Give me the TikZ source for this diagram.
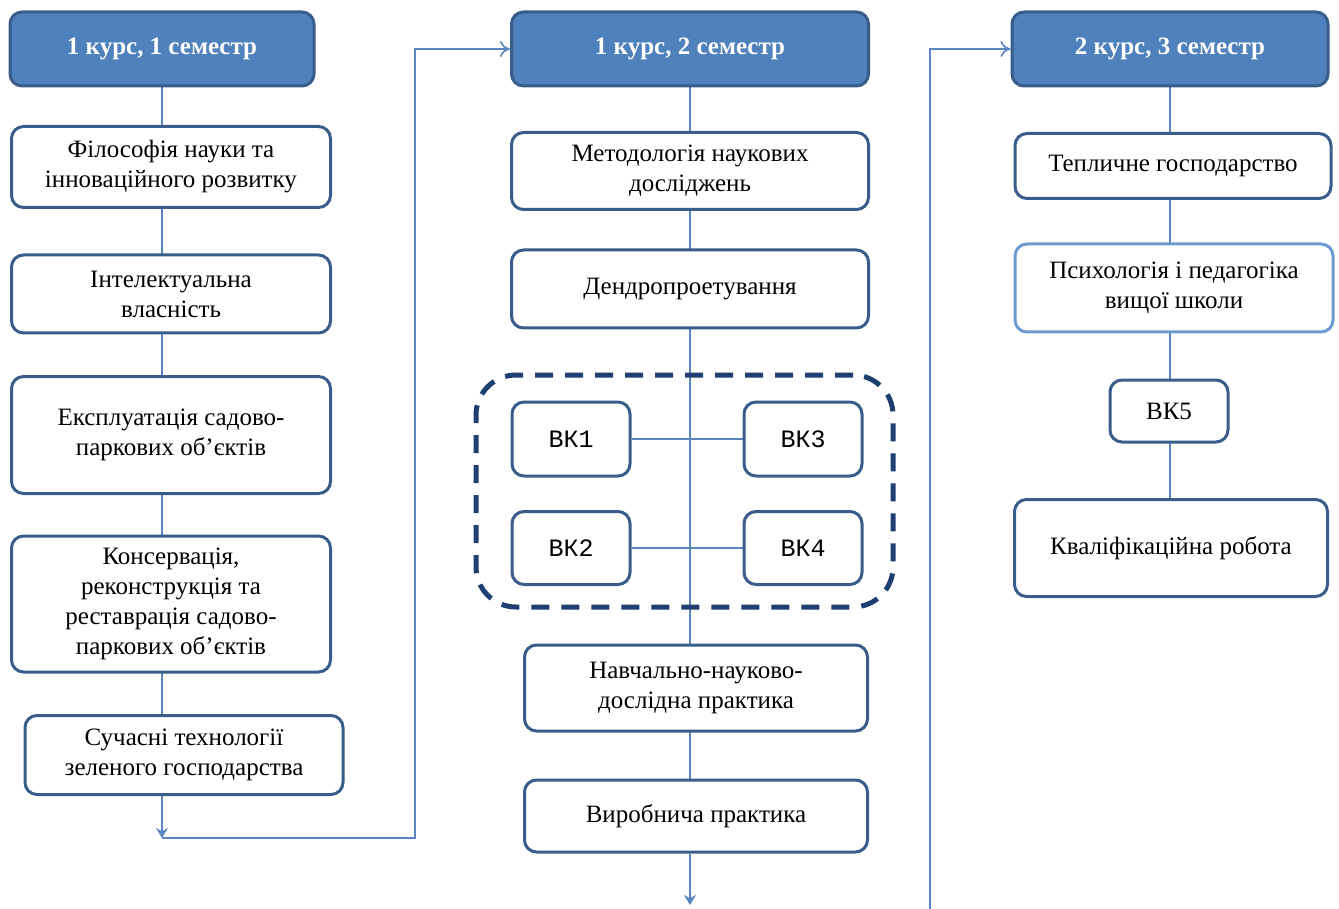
\documentclass[tikz,border=0pt]{standalone}
\usepackage{fontspec}
\setmainfont{Liberation Serif}
\newfontfamily\vkfont{Liberation Mono}
\usetikzlibrary{arrows.meta,backgrounds}
\definecolor{HeadBlue}{HTML}{4F81BD}
\definecolor{EdgeBlue}{HTML}{385D8A}
\definecolor{LineBlue}{HTML}{5A86BE}
\definecolor{DashBlue}{HTML}{1F3F73}
\definecolor{SoftBlue}{HTML}{6C9BD2}
\tikzstyle{Node}=[draw=EdgeBlue, line width=1.5pt, rounded corners=6pt, fill=white, align=center, inner sep=0pt, font=\fontsize{12.5}{15}\selectfont]
\tikzstyle{Head}=[Node, fill=HeadBlue, text=white, font=\bfseries\fontsize{12.5}{15}\selectfont]
\tikzstyle{Elective}=[Node, minimum width=59pt, font=\vkfont\fontsize{12.5}{15}\selectfont]
\tikzstyle{Group}=[draw=DashBlue, line width=2.5pt, dash pattern=on 9pt off 6pt, rounded corners=20pt]
\tikzstyle{Line}=[draw=LineBlue, line width=0.8pt]
\tikzstyle{Arrow}=[Line, -{To[length=5pt,width=8pt]}]
\tikzstyle{Down}=[Line, -{Stealth[length=5pt,width=6pt]}]

\begin{document}
\begin{tikzpicture}[x=0.5pt, y=-0.5pt]

    \useasboundingbox (0,0) rectangle (1339,909);

    % semester 1
    \node[Head, minimum width=152pt, minimum height=37pt] (sem1) at (162,49) {1 курс, 1 семестр};
    \node[Node, minimum width=159.5pt, minimum height=40.5pt] (phil) at (171,167) {Філософія науки та\\інноваційного розвитку};
    \node[Node, minimum width=159.5pt, minimum height=39pt] (ip) at (171,294) {Інтелектуальна\\власність};
    \node[Node, minimum width=159.5pt, minimum height=58.5pt] (expl) at (171,435) {Експлуатація садово-\\паркових об’єктів};
    \node[Node, minimum width=159.5pt, minimum height=68pt] (cons) at (171,604) {Консервація,\\реконструкція та\\реставрація садово-\\паркових об’єктів};
    \node[Node, minimum width=159pt, minimum height=39.5pt] (tech) at (184,755) {Сучасні технології\\зеленого господарства};

    % semester 2
    \node[Head, minimum width=178.5pt, minimum height=37pt] (sem2) at (690,49) {1 курс, 2 семестр};
    \node[Node, minimum width=178.5pt, minimum height=38.5pt] (meth) at (690,171) {Методологія наукових\\досліджень};
    \node[Node, minimum width=178.5pt, minimum height=39pt] (dend) at (690,289) {Дендропроетування};
    \node[Group, minimum width=208.5pt, minimum height=116pt] (grp) at (684.5,491) {};
    \node[Elective, minimum height=37pt] (vk1) at (571,439) {ВК1};
    \node[Elective, minimum height=37pt] (vk3) at (803,439) {ВК3};
    \node[Elective, minimum height=36.5pt] (vk2) at (571,548) {ВК2};
    \node[Elective, minimum height=36.5pt] (vk4) at (803,548) {ВК4};
    \node[Node, minimum width=171.5pt, minimum height=43pt] (prac) at (696,688) {Навчально-науково-\\дослідна практика};
    \node[Node, minimum width=171.5pt, minimum height=36pt] (prod) at (696,816) {Виробнича практика};

    % semester 3
    \node[Head, minimum width=158pt, minimum height=37pt] (sem3) at (1170,49) {2 курс, 3 семестр};
    \node[Node, minimum width=158pt, minimum height=32.5pt] (green) at (1173,166) {Тепличне господарство};
    \node[Node, draw=SoftBlue, minimum width=159pt, minimum height=44pt] (psy) at (1174,288) {Психологія і педагогіка\\вищої школи};
    \node[Elective, font=\fontsize{12.5}{15}\selectfont, minimum height=31pt] (vk5) at (1169,411) {ВК5};
    \node[Node, minimum width=156.5pt, minimum height=48.5pt] (qual) at (1171,548) {Кваліфікаційна робота};

    \coordinate (end1) at (162,838);
    \coordinate (turn1) at (415,838);
    \coordinate (end2) at (690,905);
    \coordinate (turn2) at (930,909);

    \begin{scope}[on background layer]
        \draw[Line] (sem1.south) -- (sem1.south |- tech.north);
        \draw[Line] (sem2.south) -- (sem2.south |- prod.north);
        \draw[Line] (vk1) -- (vk3);
        \draw[Line] (vk2) -- (vk4);
        \draw[Line] (sem3.south) -- (sem3.south |- qual.north);
    \end{scope}

    \draw[Down] (end1 |- tech.south) -- (end1);
    \draw[Arrow] (end1) -- (turn1) |- (sem2.west);
    \draw[Down] (end2 |- prod.south) -- (end2);
    \draw[Arrow] (turn2) |- (sem3.west);

\end{tikzpicture}
\end{document}
